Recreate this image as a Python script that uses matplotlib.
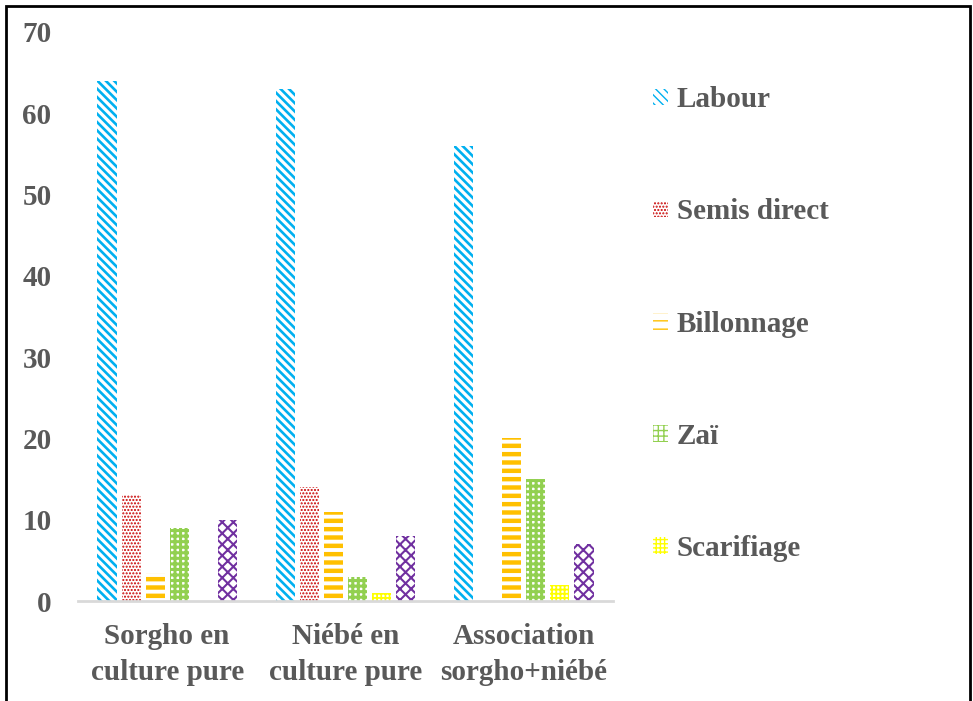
import matplotlib.pyplot as plt
import matplotlib as mpl
from matplotlib.patches import Rectangle, Patch
import numpy as np

plt.rcParams['font.family'] = ['Liberation Serif', 'DejaVu Serif']
plt.rcParams['font.weight'] = 'bold'

categories = ['Sorgho en\nculture pure', 'Niébé en\nculture pure', 'Association\nsorgho+niébé']
series = ['Labour', 'Semis direct', 'Billonnage', 'Zaï', 'Scarifiage', 'Autre']
values = [
    [64, 63, 56],
    [13, 14, 0],
    [3.5, 11, 20],
    [9, 3, 15],
    [0, 1, 2],
    [10, 8, 7],
]
colors = ['#00B0F0', '#C80000', '#FFC000', '#92D050', '#FFFF00', '#7030A0']
hatches = ['\\\\\\\\', '.....', '--', '+++', '++++', 'xxx']
hatch_lw = [1.9, 1.0, 3.2, 2.2, 1.3, 1.5]

text_color = '#595959'

fig = plt.figure(figsize=(9.73, 7.01), dpi=100)
ax = fig.add_axes([78 / 973, 1 - 601 / 701, 535 / 973, (601 - 32) / 701])

x = np.arange(len(categories))
step = 0.135
width = 0.107
for i, name in enumerate(series):
    with mpl.rc_context({'hatch.linewidth': hatch_lw[i]}):
        ax.bar(x + (i - 2.5) * step, values[i], width, facecolor='white',
               edgecolor=colors[i], hatch=hatches[i], linewidth=0, label=name)

ax.set_xlim(-0.5, 2.5)
ax.set_ylim(0, 70)
ax.set_yticks(range(0, 71, 10))
ax.set_xticks(x)
ax.set_xticklabels(categories, fontsize=21, color=text_color, linespacing=1.42)
ax.tick_params(axis='y', labelsize=21, labelcolor=text_color, length=0, pad=19)
ax.tick_params(axis='x', length=0, pad=16)
for s in ['top', 'right', 'left']:
    ax.spines[s].set_visible(False)
ax.spines['bottom'].set_color('#D9D9D9')
ax.spines['bottom'].set_linewidth(2)

handles = []
for i in range(5):
    with mpl.rc_context({'hatch.linewidth': hatch_lw[i]}):
        handles.append(Patch(facecolor='white', edgecolor=colors[i], hatch=hatches[i],
                             linewidth=0, label=series[i]))
fig.legend(handles=handles, loc='upper left', bbox_to_anchor=(627 / 973, 1 - 60 / 701),
           frameon=False, fontsize=21, labelspacing=2.92, handlelength=0.5,
           handleheight=0.5, handletextpad=0.3, labelcolor=text_color)

fig.add_artist(Rectangle((6 / 973, -0.02), 964 / 973, 1.02 - 6 / 701, transform=fig.transFigure,
                         fill=False, edgecolor='black', linewidth=2))

fig.savefig('out.png', dpi=100)
